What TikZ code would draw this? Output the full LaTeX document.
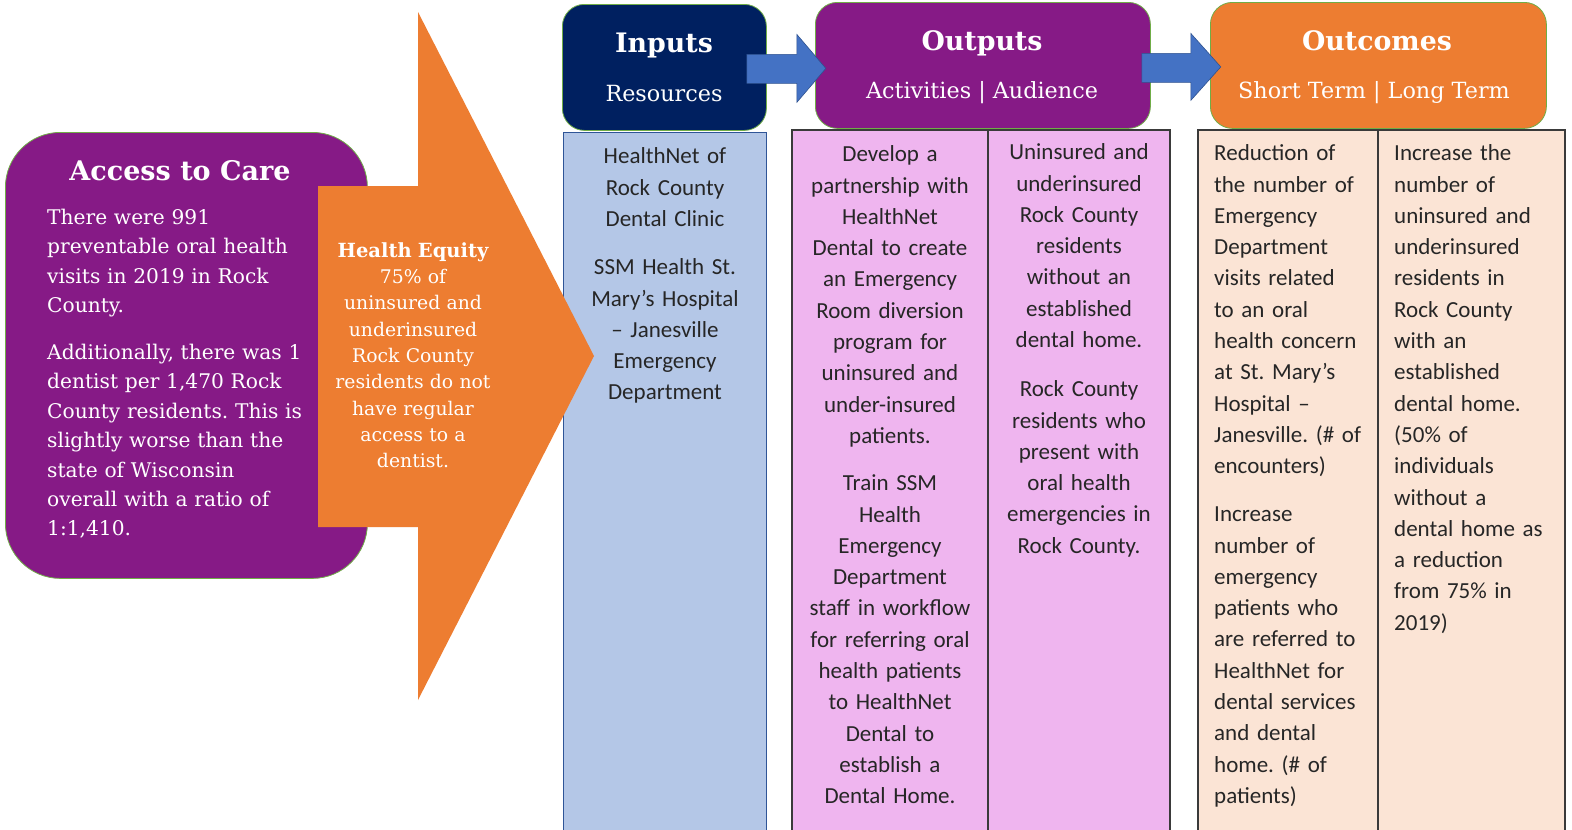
\documentclass[tikz,border=0pt]{standalone}
\usepackage{fontspec}
\setmainfont{DejaVu Serif}
\newfontfamily\calfont{Carlito}
\usetikzlibrary{calc}
\frenchspacing
\newcommand\firstl[1]{\rule{0pt}{#1pt}}
\definecolor{purp}{HTML}{861A86}
\definecolor{navy}{HTML}{002060}
\definecolor{orng}{HTML}{ED7D31}
\definecolor{arrblue}{HTML}{4472C4}
\definecolor{arrblueb}{HTML}{2F528F}
\definecolor{ltblue}{HTML}{B4C7E7}
\definecolor{ltblueb}{HTML}{2F5597}
\definecolor{pinkc}{HTML}{EFB5EF}
\definecolor{peach}{HTML}{FBE4D5}
\definecolor{grnb}{HTML}{70AD47}
\definecolor{tabline}{HTML}{3A3A3A}
\definecolor{txt}{HTML}{262626}
\begin{document}
\begin{tikzpicture}[x=1pt,y=-1pt,
  hdrbox/.style={draw=grnb,line width=0.8pt,rounded corners=22pt,inner sep=0pt,anchor=north west},
  bluearrow/.style={fill=arrblue,draw=arrblueb,line width=0.6pt},
  tab/.style={draw=tabline,line width=1.3pt},
  coltxt/.style={inner sep=0pt,text=txt,font=\calfont\frenchspacing\fontsize{23}{31.3}\selectfont},
  hdrtitle/.style={inner sep=0pt,text=white,font=\bfseries\fontsize{26.8}{30}\selectfont,anchor=base},
  hdrsub/.style={inner sep=0pt,text=white,font=\fontsize{22.3}{26}\selectfont,anchor=base},
]
\useasboundingbox (0,0) rectangle (1572,830);
\fill[white] (0,0) rectangle (1572,830);

% columns
\draw[fill=ltblue,draw=ltblueb,line width=0.8pt] (563,132) rectangle (766,834);
\draw[tab,fill=pinkc] (792,130) rectangle (1170,834);
\draw[tab] (988,130) -- (988,834);
\draw[tab,fill=peach] (1198,130) rectangle (1565,834);
\draw[tab] (1378,130) -- (1378,834);

% left purple box
\node[draw=grnb,line width=0.8pt,fill=purp,rounded corners=55pt,inner sep=0pt,
      minimum width=362pt,minimum height=446pt,anchor=north west] (access) at (5,132) {};
\node[inner sep=0pt,text=white,font=\bfseries\fontsize{27}{30}\selectfont,anchor=base] (accesstitle) at (180,180) {Access to Care};
\node[inner sep=0pt,text=white,font=\frenchspacing\fontsize{20.2}{29.4}\selectfont,text width=280pt,align=left,anchor=north west] (accessbody) at (47,207)
  {\firstl{17}There were 991\\preventable oral health\\visits in 2019 in Rock\\County.\\[17.6pt]Additionally, there was 1\\dentist per 1,470 Rock\\County residents. This is\\slightly worse than the\\state of Wisconsin\\overall with a ratio of\\1:1,410.};

% orange arrow
\coordinate (eqtip) at (594,356);
\fill[orng] (318,186) -- (418,186) -- (418,12) -- (eqtip) -- (418,700) -- (418,527) -- (318,527) -- cycle;
\node[inner sep=0pt,text=white,font=\frenchspacing\fontsize{18.8}{26.3}\selectfont,text width=180pt,align=center,anchor=north] (equity) at (413,242)
  {\firstl{15}{\bfseries\fontsize{19.5}{26.3}\selectfont Health Equity}\\75\% of\\uninsured and\\underinsured\\Rock County\\residents do not\\have regular\\access to a\\dentist.};

% header boxes
\node[hdrbox,fill=navy,minimum width=204pt,minimum height=126pt] (inputs) at (562,4) {};
\node[hdrbox,fill=purp,minimum width=335pt,minimum height=126pt] (outputs) at (815,2) {};
\node[hdrbox,fill=orng,minimum width=336pt,minimum height=126pt] (outcomes) at (1210,2) {};

\node[hdrtitle] (inputsT) at (664,52) {Inputs};
\node[hdrsub] (inputsS) at (664,101) {Resources};
\node[hdrtitle] (outputsT) at (982,50) {Outputs};
\node[hdrsub] (outputsS) at (982,98) {Activities | Audience};
\node[hdrtitle] (outcomesT) at (1377,50) {Outcomes};
\node[hdrsub] (outcomesS) at (1374,98) {Short Term | Long Term};

% block arrows between header boxes
\draw[bluearrow] ($(inputs.east)+(-20,-13)$) -- ++(50,0) -- ++(0,-20) -- ++(29,34) -- ++(-29,34) -- ++(0,-19) -- ++(-50,0) -- cycle;
\draw[bluearrow] ($(outputs.east)+(-9,-12)$) -- ++(49,0) -- ++(0,-20) -- ++(30,33.5) -- ++(-30,33.5) -- ++(0,-18) -- ++(-49,0) -- cycle;

% column texts
\node[coltxt,text width=195pt,align=center,anchor=north] (incol) at (665,145.5)
  {\firstl{18}HealthNet of\\Rock County\\Dental Clinic\\[17.1pt]SSM Health St.\\Mary’s Hospital\\– Janesville\\Emergency\\Department};
\node[coltxt,text width=190pt,align=center,anchor=north] (actcol) at (890,143.5)
  {\firstl{18}Develop a\\partnership with\\HealthNet\\Dental to create\\an Emergency\\Room diversion\\program for\\uninsured and\\under-insured\\patients.\\[16pt]Train SSM\\Health\\Emergency\\Department\\staff in workflow\\for referring oral\\health patients\\to HealthNet\\Dental to\\establish a\\Dental Home.};
\node[coltxt,text width=178pt,align=center,anchor=north] (audcol) at (1079,141.5)
  {\firstl{18}Uninsured and\\underinsured\\Rock County\\residents\\without an\\established\\dental home.\\[17.9pt]Rock County\\residents who\\present with\\oral health\\emergencies in\\Rock County.};
\node[coltxt,text width=170pt,align=left,anchor=north west] (shortcol) at (1214,142.5)
  {\firstl{18}Reduction of\\the number of\\Emergency\\Department\\visits related\\to an oral\\health concern\\at St. Mary’s\\Hospital –\\Janesville. (\# of\\encounters)\\[16.7pt]Increase\\number of\\emergency\\patients who\\are referred to\\HealthNet for\\dental services\\and dental\\home. (\# of\\patients)};
\node[coltxt,text width=170pt,align=left,anchor=north west] (longcol) at (1394,142.5)
  {\firstl{18}Increase the\\number of\\uninsured and\\underinsured\\residents in\\Rock County\\with an\\established\\dental home.\\(50\% of\\individuals\\without a\\dental home as\\a reduction\\from 75\% in\\2019)};
\end{tikzpicture}
\end{document}
